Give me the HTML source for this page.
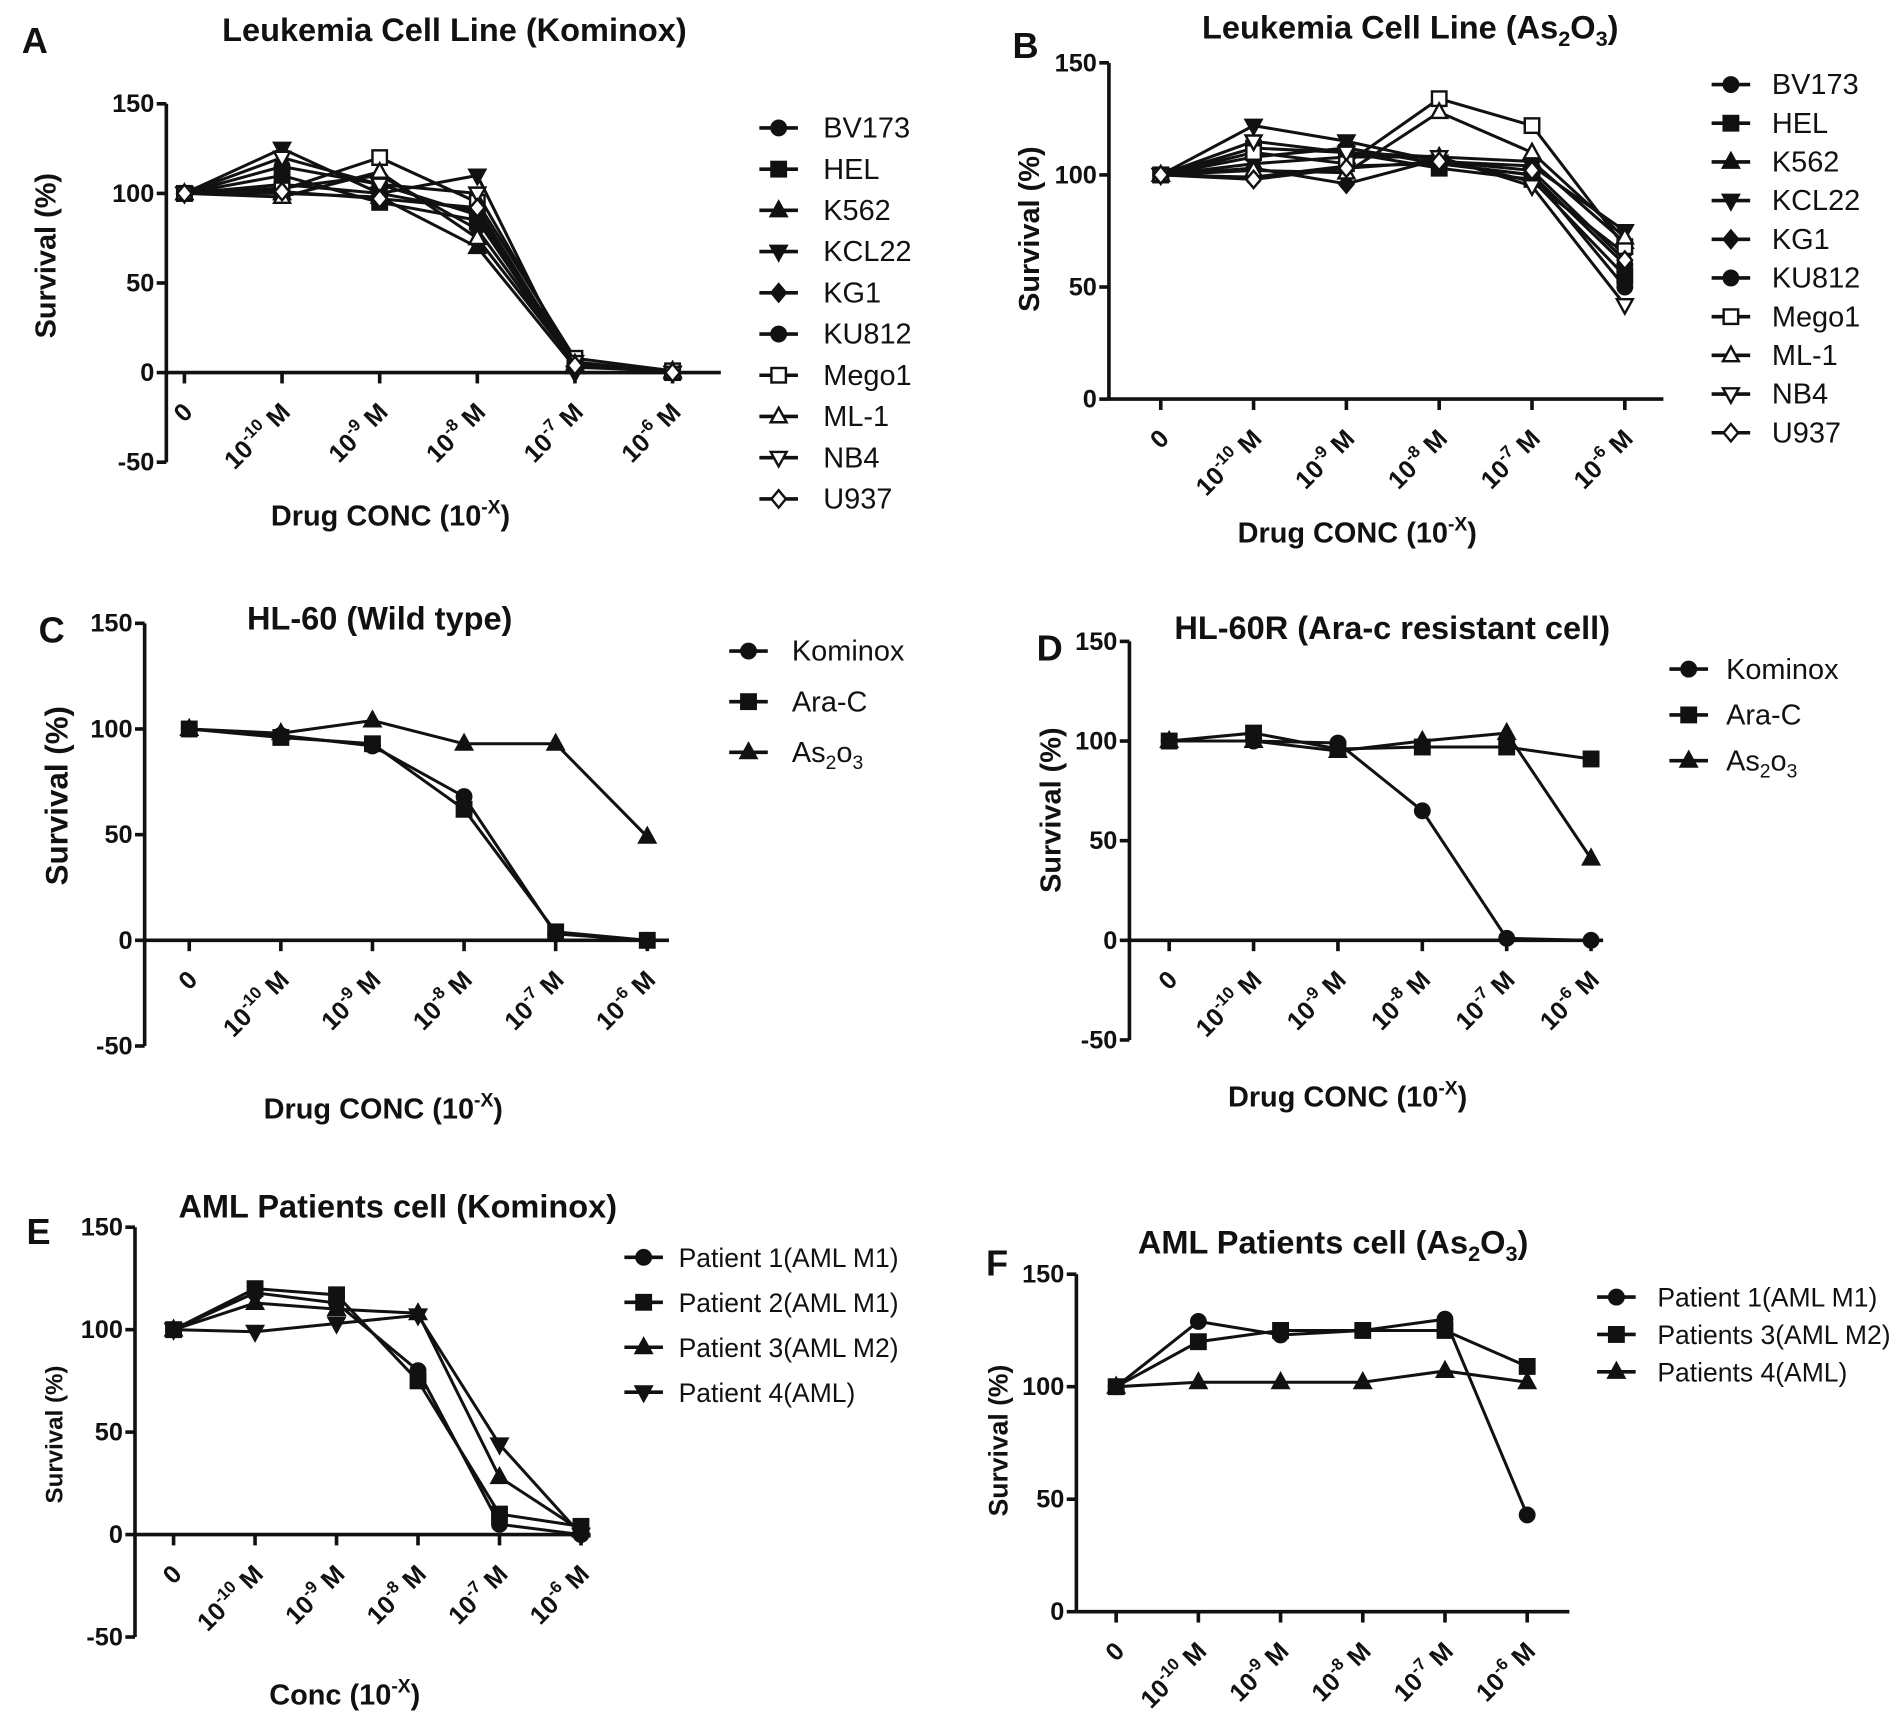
<!DOCTYPE html>
<html><head><meta charset="utf-8"><style>
html,body{margin:0;padding:0;background:#fff;}
svg{display:block;}
text{font-family:"Liberation Sans",Arial,sans-serif;fill:#111;}
</style></head><body>
<svg id="fig" width="1890" height="1736" viewBox="0 0 1568 1440" xmlns="http://www.w3.org/2000/svg"></svg>
<script>
const catsPow = ["", "-10", "-9", "-8", "-7", "-6"];
const yTicksA = [150, 100, 50, 0, -50];
const yTicksB = [150, 100, 50, 0];
const namesAB = ["BV173","HEL","K562","KCL22","KG1","KU812","Mego1","ML-1","NB4","U937"];
const valsA = [
 [100,105,100,90,5,0],[100,110,95,85,5,0],[100,100,98,70,3,1],[100,125,100,110,0,0],
 [100,103,110,80,5,0],[100,115,105,88,4,0],[100,102,120,95,8,1],[100,98,112,75,5,0],
 [100,120,105,100,6,0],[100,101,97,92,4,0]];
const valsB = [
 [100,108,112,105,100,60],[100,112,110,103,98,55],[100,105,108,108,106,70],[100,122,115,106,104,75],
 [100,103,96,107,97,65],[100,99,104,105,100,50],[100,110,105,134,122,68],[100,102,101,128,110,72],
 [100,115,110,108,95,42],[100,98,103,106,102,62]];
const namesCD = ["Kominox","Ara-C","As₂o₃"];
const valsC = [[100,97,92,68,3,0],[100,96,93,62,4,0],[100,98,104,93,93,49]];
const valsD = [[100,100,99,65,1,0],[100,104,96,97,97,91],[100,100,95,100,104,41]];
const namesE = ["Patient 1(AML M1)","Patient 2(AML M1)","Patient 3(AML M2)","Patient 4(AML)"];
const valsE = [[100,118,113,80,5,0],[100,120,117,75,10,4],[100,113,110,108,28,2],[100,99,103,107,44,0]];
const namesF = ["Patient 1(AML M1)","Patients 3(AML M2)","Patients 4(AML)"];
const valsF = [[100,129,123,125,130,43],[100,120,125,125,125,109],[100,102,102,102,107,102]];

const NS="http://www.w3.org/2000/svg";
const svg=document.getElementById('fig');
function mk(tag,attrs,parent,txt){const e=document.createElementNS(NS,tag);for(const k in attrs)e.setAttribute(k,attrs[k]);if(txt!==undefined)e.textContent=txt;(parent||svg).appendChild(e);return e;}

function marker(g,type,x,y,s){
  const st={stroke:'#111','stroke-width':2};
  let e;
  const fill=type.startsWith('o')?'#fff':'#111';
  const t=type.replace(/^o/,'');
  if(t==='circle'||t==='hex') e=mk('circle',{cx:x,cy:y,r:s,fill:fill,...st},g);
  else if(t==='square') e=mk('rect',{x:x-s,y:y-s,width:2*s,height:2*s,fill:fill,...st},g);
  else if(t==='tri') e=mk('polygon',{points:`${x},${y-s*1.2} ${x-s*1.1},${y+s*0.8} ${x+s*1.1},${y+s*0.8}`,fill:fill,...st},g);
  else if(t==='dtri') e=mk('polygon',{points:`${x},${y+s*1.2} ${x-s*1.1},${y-s*0.8} ${x+s*1.1},${y-s*0.8}`,fill:fill,...st},g);
  else e=mk('polygon',{points:`${x},${y-s*1.2} ${x+s},${y} ${x},${y+s*1.2} ${x-s},${y}`,fill:fill,...st},g);
  
  
}

function chart(c){
  const g=mk('g',{});
  
  
  const ys=v=>c.y0+(v-0)*(c.y150-c.y0)/150;
  const xs=i=>c.cx[0]+i*(c.cx[1]-c.cx[0]);
  const yMin=Math.min(...c.yTicks);
  const ya=mk('line',{x1:c.ax,y1:ys(150),x2:c.ax,y2:ys(yMin),stroke:'#111','stroke-width':3},g);
  
  const xa=mk('line',{x1:c.ax,y1:ys(0),x2:c.axEnd,y2:ys(0),stroke:'#111','stroke-width':3},g);
  
  c.yTicks.forEach(v=>{
    mk('line',{x1:c.ax-8,y1:ys(v),x2:c.ax,y2:ys(v),stroke:'#111','stroke-width':3},g);
    const t=mk('text',{x:c.ax-10,y:ys(v)+7,'text-anchor':'end','font-size':21,'font-weight':'bold'},g,String(v));
    
  });
  catsPow.forEach((p,i)=>{
    const x=xs(i),y=ys(0);
    mk('line',{x1:x,y1:y,x2:x,y2:y+9,stroke:'#111','stroke-width':3},g);
    const t=mk('text',{transform:`translate(${x+8},${y+34}) rotate(-45)`,'text-anchor':'end','font-size':21,'font-weight':'bold'},g);
    
    if(p===''){t.textContent='0';}
    else{mk('tspan',{},t,'10');mk('tspan',{dy:-9,'font-size':14},t,p);mk('tspan',{dy:9},t,' M');}
  });
  c.vals.forEach((s,si)=>{
    const pts=s.map((v,i)=>`${xs(i)},${ys(v)}`).join(' ');
    const l=mk('polyline',{points:pts,fill:'none',stroke:'#111','stroke-width':2.5},g);
    
    s.forEach((v,i)=>marker(g,c.markers[si],xs(i),ys(v),6));
  });
  c.names.forEach((n,i)=>{
    const y=c.leg[2]+i*c.leg[3];
    const lg=mk('g',{},g);
    
    mk('line',{x1:c.leg[0],y1:y,x2:c.leg[0]+32,y2:y,stroke:'#111','stroke-width':3},lg);
    marker(lg,c.markers[i],c.leg[0]+16,y,6);
    const t=mk('text',{x:c.leg[1],y:y+8,'font-size':c.legFs||24},lg);
    if(n.indexOf('₂')>=0){mk('tspan',{},t,'As');mk('tspan',{dy:6,'font-size':16},t,'2');mk('tspan',{dy:-6},t,n.indexOf('o₃')>=0?'o':'O');mk('tspan',{dy:6,'font-size':16},t,'3');}
    else t.textContent=n;
  });
  const tt=mk('text',{x:c.title[1],y:c.title[2],'text-anchor':'middle','font-size':27,'font-weight':'bold'},g);
  
  c.title[0].forEach(p=>{ if(p[1]) mk('tspan',{dy:p[1],'font-size':p[2]||27},tt,p[0]); else mk('tspan',{},tt,p[0]); });
  const lt=mk('text',{x:c.letter[1],y:c.letter[2],'font-size':30,'font-weight':'bold'},g,c.letter[0]);
  
  const yt=mk('text',{transform:`translate(${c.ytitle[0]},${c.ytitle[1]}) rotate(-90)`,'text-anchor':'middle','font-size':c.ytitle[2],'font-weight':'bold'},g,'Survival (%)');
  
  if(c.xtitle){
    const xt=mk('text',{x:c.xtitle[1],y:c.xtitle[2],'text-anchor':'middle','font-size':24,'font-weight':'bold'},g);
    
    mk('tspan',{},xt,c.xtitle[0]+' (10');mk('tspan',{dy:-10,'font-size':16},xt,'-X');mk('tspan',{dy:10},xt,')');
  }
}
const mk10=['circle','square','tri','dtri','diamond','hex','osquare','otri','odtri','odiamond'];
chart({id:'chart-a',ax:138,axEnd:598,y0:309,y150:86,yTicks:yTicksA,cx:[153,234],vals:valsA,names:namesAB,markers:mk10,
 leg:[630,683,106,34.2],title:[[['Leukemia Cell Line (Kominox)']],377,34],letter:['A',18,44],ytitle:[46,212,24],xtitle:['Drug CONC',324,436]});
chart({id:'chart-b',ax:920,axEnd:1380,y0:331,y150:52,yTicks:yTicksB,cx:[963,1040],vals:valsB,names:namesAB,markers:mk10,
 leg:[1420,1470,70,32.1],title:[[['Leukemia Cell Line (As'],['2',6,18],['O',-6],['3',6,18],[')',-6]],1170,32],letter:['B',840,48],ytitle:[862,190,24],xtitle:['Drug CONC',1126,450]});
chart({id:'chart-c',ax:120,axEnd:555,y0:780,y150:517,yTicks:yTicksA,cx:[157,233],vals:valsC,names:namesCD,markers:['circle','square','tri'],
 leg:[605,657,540,42],title:[[['HL-60 (Wild type)']],315,522],letter:['C',32,533],ytitle:[56,660,26],xtitle:['Drug CONC',318,928]});
chart({id:'chart-d',ax:937,axEnd:1330,y0:780,y150:532,yTicks:yTicksA,cx:[970,1040],vals:valsD,names:namesCD,markers:['circle','square','tri'],
 leg:[1385,1432,555,38],title:[[['HL-60R (Ara-c resistant cell)']],1155,530],letter:['D',860,548],ytitle:[880,672,24],xtitle:['Drug CONC',1118,918]});
chart({id:'chart-e',ax:112,axEnd:490,y0:1273,y150:1018,yTicks:yTicksA,cx:[144,211.6],vals:valsE,names:namesE,markers:['circle','square','tri','dtri'],
 leg:[518,563,1043,37.3],legFs:22,title:[[['AML Patients cell (Kominox)']],330,1010],letter:['E',22,1032],ytitle:[52,1190,20],xtitle:['Conc',286,1414]});
chart({id:'chart-f',ax:893,axEnd:1302,y0:1337,y150:1057,yTicks:yTicksB,cx:[926,994.2],vals:valsF,names:namesF,markers:['circle','square','tri'],
 leg:[1325,1375,1076,31],legFs:22,title:[[['AML Patients cell (As'],['2',6,18],['O',-6],['3',6,18],[')',-6]],1106,1040],letter:['F',818,1058],ytitle:[836,1195,22]});
</script>
</body></html>
